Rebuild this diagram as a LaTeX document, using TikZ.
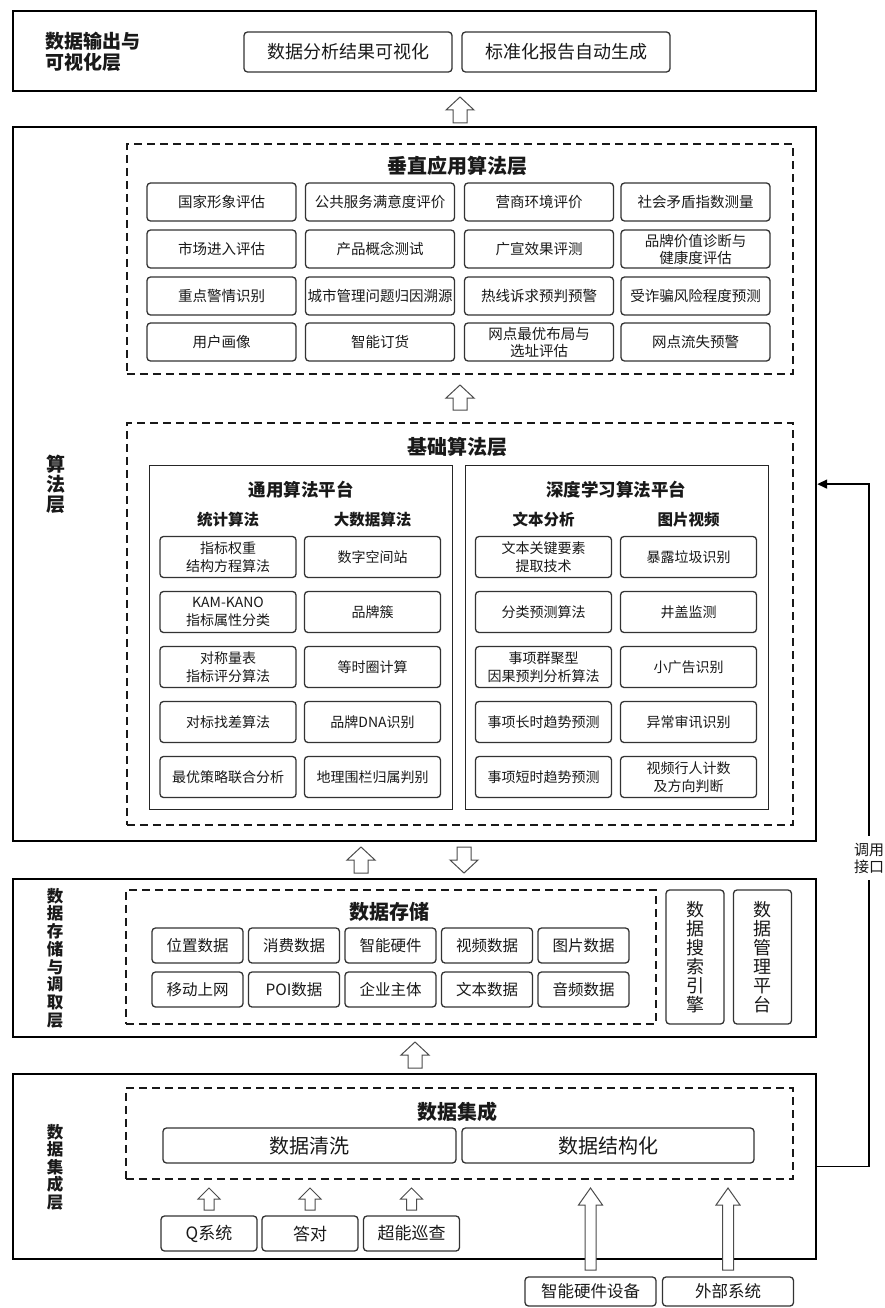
\documentclass[tikz,border=0pt]{standalone}
\usepackage{fontspec}
\setmainfont{Noto Sans CJK SC}
\usepackage{tikz}
\usetikzlibrary{arrows.meta, calc}

\newcommand\setfs[2]{\fontsize{#1}{#2}\selectfont}
% stacked lines with a fixed pitch
\newcommand\stackchars[2]{\vbox{\baselineskip=#1\lineskiplimit=-50pt\relax#2}}
% hollow block arrow: tail, tip, half shaft, half head, head length
\newcommand\hollowarrow[5]{%
  \draw[blockarrow] let \p1=(#1), \p2=(#2), \n1={sign(\y2-\y1)} in
    ({\x1-#3},{\y1}) -- ({\x1-#3},{\y2-(\n1)*#5}) -- ({\x1-#4},{\y2-(\n1)*#5}) -- ({\x1},{\y2})
    -- ({\x1+#4},{\y2-(\n1)*#5}) -- ({\x1+#3},{\y2-(\n1)*#5}) -- ({\x1+#3},{\y1}) -- cycle;}

\begin{document}
\begin{tikzpicture}[x=1pt, y=-1pt,
  every node/.style={text=black!90},
  layer/.style={draw=black, line width=2.2pt, anchor=north west, inner sep=0pt},
  zone/.style={draw=black!90, line width=1.8pt, dash pattern=on 8pt off 5pt, anchor=north west, inner sep=0pt},
  panel/.style={draw=black!85, line width=1.4pt, anchor=north west, inner sep=0pt},
  box/.style={draw=black!80, line width=1.3pt, rounded corners=3.5pt, align=center, inner sep=0pt},
  layertxt/.style={font=\bfseries\setfs{19}{20}, inner sep=0pt},
  ttl/.style={font=\bfseries\setfs{20}{22}},
  plat/.style={font=\bfseries\setfs{17.5}{20}},
  subttl/.style={font=\bfseries\setfs{15.5}{18}},
  outbox/.style={box, minimum width=208pt, minimum height=40pt, font=\setfs{18}{20}},
  appbox/.style={box, minimum width=149pt, minimum height=38pt, font=\setfs{14.5}{17}},
  algbox/.style={box, minimum width=136pt, minimum height=41pt, font=\setfs{14}{18}},
  databox/.style={box, minimum width=91pt, minimum height=35pt, font=\setfs{15.5}{18}},
  toolbox/.style={box, minimum width=58pt, minimum height=134pt, font=\setfs{18}{19}},
  stepbox/.style={box, minimum height=35pt, font=\setfs{20}{22}},
  srcbox/.style={box, minimum width=96pt, minimum height=35pt, font=\setfs{17}{20}},
  extbox/.style={box, minimum width=131pt, minimum height=29pt, font=\setfs{16.5}{19}},
  blockarrow/.style={draw=black!70, line width=1pt, fill=white},
  call/.style={draw=black, line width=1.6pt, -{Triangle[length=10pt, width=9pt]}}]
  \useasboundingbox (0,0) rectangle (885,1308);

  % layers
  \node[layer, minimum width=803pt, minimum height=80pt]  (out)   at (12,10) {};
  \node[layer, minimum width=803pt, minimum height=714pt] (algo)  at (12,126) {};
  \node[layer, minimum width=803pt, minimum height=158pt] (stor)  at (12,878) {};
  \node[layer, minimum width=803pt, minimum height=185pt] (integ) at (12,1073) {};
  % layer names
  \node[layertxt, anchor=west] (outlbl) at (45,52) {\stackchars{21.5pt}{\hbox{数据输出与}\hbox{可视化层}}};
  \node[layertxt] (algolbl) at (56,484) {\stackchars{20pt}{\hbox{算}\hbox{法}\hbox{层}}};
  \node[layertxt, font=\bfseries\setfs{16.5}{17.7}] (storlbl) at (55,958)
    {\stackchars{17.7pt}{\hbox{数}\hbox{据}\hbox{存}\hbox{储}\hbox{与}\hbox{调}\hbox{取}\hbox{层}}};
  \node[layertxt, font=\bfseries\setfs{16.5}{17.5}] (integlbl) at (55,1167)
    {\stackchars{17.5pt}{\hbox{数}\hbox{据}\hbox{集}\hbox{成}\hbox{层}}};

  % output layer
  \node[outbox] (viz)    at (348,52) {数据分析结果可视化};
  \node[outbox] (report) at (566,52) {标准化报告自动生成};

  % vertical application algorithms
  \node[zone, minimum width=666pt, minimum height=230pt] (vert) at (126,143) {};
  \node[ttl] (verttl) at (457,166) {垂直应用算法层};
  \node[appbox] (app11) at (221.5,202) {国家形象评估};
  \node[appbox] (app12) at (380,202)   {公共服务满意度评价};
  \node[appbox] (app13) at (539,202)   {营商环境评价};
  \node[appbox] (app14) at (695.5,202) {社会矛盾指数测量};
  \node[appbox] (app21) at (221.5,249) {市场进入评估};
  \node[appbox] (app22) at (380,249)   {产品概念测试};
  \node[appbox] (app23) at (539,249)   {广宣效果评测};
  \node[appbox] (app24) at (695.5,249) {品牌价值诊断与\\健康度评估};
  \node[appbox] (app31) at (221.5,296) {重点警情识别};
  \node[appbox] (app32) at (380,296)   {城市管理问题归因溯源};
  \node[appbox] (app33) at (539,296)   {热线诉求预判预警};
  \node[appbox] (app34) at (695.5,296) {受诈骗风险程度预测};
  \node[appbox] (app41) at (221.5,342) {用户画像};
  \node[appbox] (app42) at (380,342)   {智能订货};
  \node[appbox] (app43) at (539,342)   {网点最优布局与\\选址评估};
  \node[appbox] (app44) at (695.5,342) {网点流失预警};

  % basic algorithms
  \node[zone, minimum width=666pt, minimum height=402pt] (base) at (126,422) {};
  \node[ttl] (basettl) at (457,447) {基础算法层};
  \node[panel, minimum width=303pt, minimum height=344pt] (gen)  at (149,465) {};
  \node[panel, minimum width=303pt, minimum height=344pt] (deep) at (465,465) {};
  \node[plat] (genttl)  at (301,490) {通用算法平台};
  \node[plat] (deepttl) at (616,490) {深度学习算法平台};
  \node[subttl] (stat) at (228,520)   {统计算法};
  \node[subttl] (big)  at (372.5,520) {大数据算法};
  \node[subttl] (text) at (543.5,520) {文本分析};
  \node[subttl] (img)  at (688.5,520) {图片视频};
  % general platform
  \node[algbox] (stat1) at (228,557) {指标权重\\结构方程算法};
  \node[algbox] (stat2) at (228,612) {KAM-KANO\\指标属性分类};
  \node[algbox] (stat3) at (228,667) {对称量表\\指标评分算法};
  \node[algbox] (stat4) at (228,722) {对标找差算法};
  \node[algbox] (stat5) at (228,777) {最优策略联合分析};
  \node[algbox] (big1) at (372.5,557) {数字空间站};
  \node[algbox] (big2) at (372.5,612) {品牌簇};
  \node[algbox] (big3) at (372.5,667) {等时圈计算};
  \node[algbox] (big4) at (372.5,722) {品牌DNA识别};
  \node[algbox] (big5) at (372.5,777) {地理围栏归属判别};
  % deep learning platform
  \node[algbox] (text1) at (543.5,557) {文本关键要素\\提取技术};
  \node[algbox] (text2) at (543.5,612) {分类预测算法};
  \node[algbox] (text3) at (543.5,667) {事项群聚型\\因果预判分析算法};
  \node[algbox] (text4) at (543.5,722) {事项长时趋势预测};
  \node[algbox] (text5) at (543.5,777) {事项短时趋势预测};
  \node[algbox] (img1) at (688.5,557) {暴露垃圾识别};
  \node[algbox] (img2) at (688.5,612) {井盖监测};
  \node[algbox] (img3) at (688.5,667) {小广告识别};
  \node[algbox] (img4) at (688.5,722) {异常审讯识别};
  \node[algbox] (img5) at (688.5,777) {视频行人计数\\及方向判断};

  % storage layer
  \node[zone, minimum width=530pt, minimum height=134pt] (store) at (125,889) {};
  \node[ttl] (storettl) at (389,912) {数据存储};
  \node[databox] (loc)   at (197.5,945.5) {位置数据};
  \node[databox] (pay)   at (294,945.5)   {消费数据};
  \node[databox] (hw)    at (390.5,945.5) {智能硬件};
  \node[databox] (video) at (487,945.5)   {视频数据};
  \node[databox] (pic)   at (583.5,945.5) {图片数据};
  \node[databox] (mob)   at (197.5,989.5) {移动上网};
  \node[databox] (poi)   at (294,989.5)   {POI数据};
  \node[databox] (firm)  at (390.5,989.5) {企业主体};
  \node[databox] (txt)   at (487,989.5)   {文本数据};
  \node[databox] (audio) at (583.5,989.5) {音频数据};
  \node[toolbox] (search) at (695,957)
    {\stackchars{19pt}{\hbox{数}\hbox{据}\hbox{搜}\hbox{索}\hbox{引}\hbox{擎}}};
  \node[toolbox] (manage) at (762.5,957)
    {\stackchars{19pt}{\hbox{数}\hbox{据}\hbox{管}\hbox{理}\hbox{平}\hbox{台}}};

  % integration layer
  \node[zone, minimum width=667pt, minimum height=91pt] (merge) at (125,1087) {};
  \node[ttl] (mergettl) at (457,1112) {数据集成};
  \node[stepbox, minimum width=293pt] (clean)  at (309.5,1145.5) {数据清洗};
  \node[stepbox, minimum width=292pt] (struct) at (608,1145.5)   {数据结构化};
  \node[srcbox] (qsys)   at (209,1233.5)   {Q系统};
  \node[srcbox] (reply)  at (310,1233.5)   {答对};
  \node[srcbox] (patrol) at (411.5,1233.5) {超能巡查};
  \node[extbox] (device) at (590.5,1291.5) {智能硬件设备};
  \node[extbox] (extsys) at (728,1291.5)   {外部系统};

  % block arrows
  \coordinate (a1t) at (460,123);  \coordinate (a1h) at (460,97);
  \coordinate (a2t) at (460,410);  \coordinate (a2h) at (460,385);
  \coordinate (a3t) at (361,873);  \coordinate (a3h) at (361,847);
  \coordinate (a4t) at (464,847);  \coordinate (a4h) at (464,873);
  \coordinate (a5t) at (415,1068); \coordinate (a5h) at (415,1042);
  \hollowarrow{a1t}{a1h}{7pt}{14pt}{13pt}
  \hollowarrow{a2t}{a2h}{7pt}{14pt}{13pt}
  \hollowarrow{a3t}{a3h}{7pt}{14pt}{13pt}
  \hollowarrow{a4t}{a4h}{7pt}{14pt}{13pt}
  \hollowarrow{a5t}{a5h}{7pt}{14pt}{13pt}
  % sources into integration
  \coordinate (qtip) at (209,1188);   \coordinate (qtail) at (209,1210);
  \coordinate (rtip) at (310,1188);   \coordinate (rtail) at (310,1210);
  \coordinate (ptip) at (411.5,1188); \coordinate (ptail) at (411.5,1210);
  \coordinate (dtip) at (590.5,1188); \coordinate (dtail) at (590.5,1270);
  \coordinate (etip) at (728,1188);   \coordinate (etail) at (728,1270);
  \hollowarrow{qtail}{qtip}{5pt}{11pt}{11pt}
  \hollowarrow{rtail}{rtip}{5pt}{11pt}{11pt}
  \hollowarrow{ptail}{ptip}{5pt}{11pt}{11pt}
  \hollowarrow{dtail}{dtip}{5.5pt}{12pt}{17pt}
  \hollowarrow{etail}{etip}{5.5pt}{12pt}{17pt}

  % call interface
  \draw[call] (integ.east) -- ++(52,0) |- (algo.east)
    node[pos=0.226, fill=white, inner xsep=3pt, inner ysep=7pt, font=\setfs{15}{17}] (calllbl)
    {\stackchars{17pt}{\hbox{调用}\hbox{接口}}};
\end{tikzpicture}
\end{document}
